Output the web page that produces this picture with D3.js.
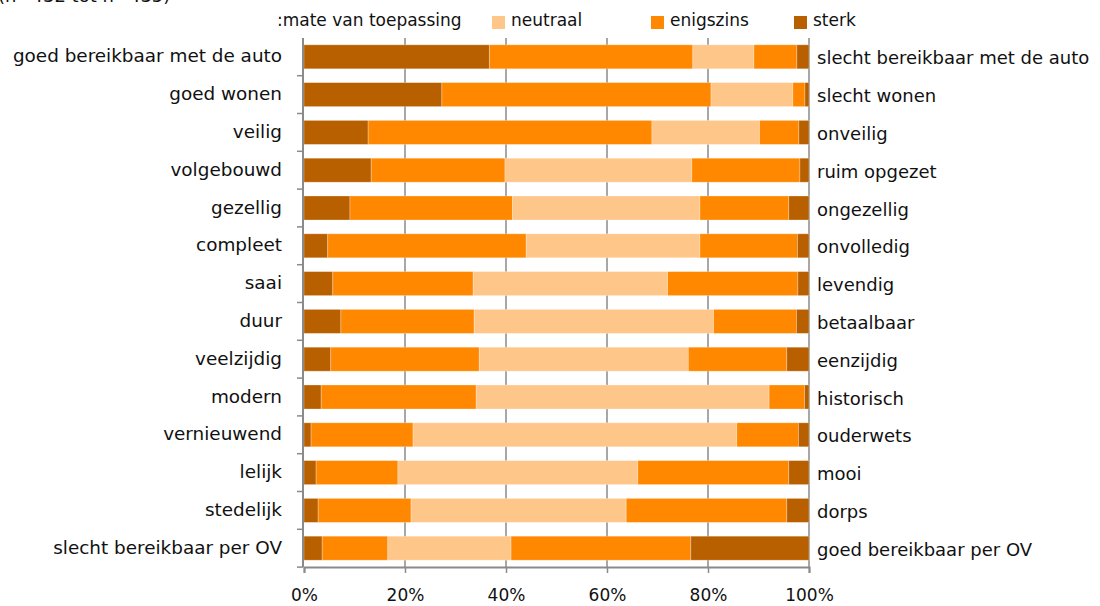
<!DOCTYPE html>
<html>
<head>
<meta charset="utf-8">
<script src="https://cdn.jsdelivr.net/npm/d3@7"></script>
<style>
  body { margin: 0; background: #fff; }
  text { font-family: "DejaVu Sans", Verdana, sans-serif; fill: #111; }
</style>
</head>
<body>
<div id="chart"></div>
<script>
// categories (left / right pole of each statement)
const leftLabels = ['goed bereikbaar met de auto', 'goed wonen', 'veilig', 'volgebouwd', 'gezellig',
    'compleet', 'saai', 'duur', 'veelzijdig', 'modern', 'vernieuwend', 'lelijk', 'stedelijk',
    'slecht bereikbaar per OV'];
const rightLabels = ['slecht bereikbaar met de auto', 'slecht wonen', 'onveilig', 'ruim opgezet', 'ongezellig',
    'onvolledig', 'levendig', 'betaalbaar', 'eenzijdig', 'historisch', 'ouderwets', 'mooi', 'dorps',
    'goed bereikbaar per OV'];

// percentages
const sterkLeft      = [36.7, 27.3, 12.7, 13.3,  9.1,  4.7,  5.7,  7.3,  5.3,  3.4,  1.4,  2.4,  2.8,  3.6];
const enigszinsLeft  = [40.3, 53.3, 56.2, 26.5, 32.2, 39.3, 27.8, 26.4, 29.4, 30.7, 20.2, 16.2, 18.4, 13.0];
const neutraal       = [12.1, 16.2, 21.3, 37.0, 37.1, 34.4, 38.5, 47.4, 41.4, 58.0, 64.1, 47.5, 42.6, 24.4];
const enigszinsRight = [ 8.5,  2.4,  7.8, 21.4, 17.6, 19.3, 25.8, 16.4, 19.5,  7.0, 12.2, 29.9, 31.8, 35.6];
const sterkRight     = [ 2.4,  0.8,  2.0,  1.8,  4.0,  2.3,  2.2,  2.5,  4.4,  0.9,  2.1,  4.0,  4.4, 23.4];

const xTicks = [0, 20, 40, 60, 80, 100];
const legendItems = ['neutraal', 'enigszins', 'sterk'];
const sampleNote = '(n=432 tot n=435)';
const legendTitle = ':mate van toepassing';

const colors = { sterk: '#b85f00', enigszins: '#ff8800', neutraal: '#ffc689' };

class Chart {

    constructor(opts) {
        this.element = opts.element;
        this.draw();
    }

    draw() {
        this.width = 1100;
        this.height = 606;
        this.margin = { top: 38, right: 291, bottom: 39, left: 304 };

        const svg = d3.select(this.element).append('svg')
            .attr('width', this.width)
            .attr('height', this.height);
        this.svg = svg;

        this.plot = svg.append('g')
            .attr('transform', `translate(${this.margin.left},${this.margin.top})`);

        this.innerW = this.width - this.margin.left - this.margin.right;
        this.innerH = this.height - this.margin.top - this.margin.bottom;

        this.createScales();
        this.addGrid();
        this.addBars();
        this.addAxes();
        this.addLabels();
        this.addLegend();
    }

    createScales() {
        this.xScale = d3.scaleLinear()
            .domain([0, 100])
            .range([0, this.innerW]);

        this.yScale = d3.scaleBand()
            .domain(d3.range(leftLabels.length))
            .range([0, this.innerH])
            .paddingInner(0.365)
            .paddingOuter(0.18);
    }

    addGrid() {
        this.plot.append('g')
            .selectAll('line')
            .data(xTicks.filter(t => t > 0))
            .join('line')
            .attr('x1', d => this.xScale(d))
            .attr('x2', d => this.xScale(d))
            .attr('y1', 0)
            .attr('y2', this.innerH)
            .attr('stroke', '#8a8a8a')
            .attr('stroke-width', 1.5);
    }

    addBars() {
        const keys = ['sterkL', 'enigszinsL', 'neutraal', 'enigszinsR', 'sterkR'];
        const fills = [colors.sterk, colors.enigszins, colors.neutraal, colors.enigszins, colors.sterk];
        const rows = leftLabels.map((l, i) => ({
            i: i,
            sterkL: sterkLeft[i],
            enigszinsL: enigszinsLeft[i],
            neutraal: neutraal[i],
            enigszinsR: enigszinsRight[i],
            sterkR: sterkRight[i]
        }));
        const series = d3.stack().keys(keys)(rows);

        this.plot.append('g')
            .selectAll('g')
            .data(series)
            .join('g')
            .attr('fill', (d, k) => fills[k])
            .selectAll('rect')
            .data(d => d)
            .join('rect')
            .attr('x', d => this.xScale(d[0]))
            .attr('width', d => this.xScale(d[1]) - this.xScale(d[0]))
            .attr('y', d => this.yScale(d.data.i))
            .attr('height', this.yScale.bandwidth())
            .attr('stroke', 'rgba(255,255,255,0.35)')
            .attr('stroke-width', 0.8);
    }

    addAxes() {
        const axisColor = '#8a8a8a';

        // bottom axis
        const xAxis = d3.axisBottom(this.xScale)
            .tickValues(xTicks)
            .tickSize(6)
            .tickPadding(16)
            .tickFormat(d => d + '%');
        const gx = this.plot.append('g')
            .attr('transform', `translate(0,${this.innerH})`)
            .call(xAxis);
        gx.select('.domain').attr('stroke', axisColor).attr('stroke-width', 2);
        gx.selectAll('.tick line').attr('stroke', axisColor).attr('stroke-width', 1.5);
        gx.selectAll('.tick text')
            .style('font-family', '"DejaVu Sans", Verdana, sans-serif')
            .style('font-size', '17px')
            .attr('fill', '#111');

        // left axis line with ticks between categories
        const step = this.yScale.step();
        const y0 = this.yScale(0) - this.yScale.paddingInner() * step / 2;
        const bounds = d3.range(leftLabels.length + 1).map(k => y0 + k * step);
        const gy = this.plot.append('g');
        gy.append('line')
            .attr('x1', -1).attr('x2', -1)
            .attr('y1', 0).attr('y2', this.innerH)
            .attr('stroke', axisColor).attr('stroke-width', 2);
        gy.selectAll('.tk')
            .data(bounds.slice(1))
            .join('line')
            .attr('class', 'tk')
            .attr('x1', -7).attr('x2', -1)
            .attr('y1', d => d).attr('y2', d => d)
            .attr('stroke', axisColor).attr('stroke-width', 1.5);
    }

    addLabels() {
        const mid = i => this.yScale(i) + this.yScale.bandwidth() / 2;

        this.plot.append('g')
            .selectAll('text')
            .data(leftLabels)
            .join('text')
            .attr('x', -22)
            .attr('y', (d, i) => mid(i))
            .attr('dy', '0.3em')
            .attr('text-anchor', 'end')
            .style('font-size', '18.4px')
            .text(d => d);

        this.plot.append('g')
            .selectAll('text')
            .data(rightLabels)
            .join('text')
            .attr('x', this.innerW + 8)
            .attr('y', (d, i) => mid(i))
            .attr('dy', '0.42em')
            .attr('text-anchor', 'start')
            .style('font-size', '18px')
            .text(d => d);
    }

    addLegend() {
        // sample size note, partly cut off at the top as in the original
        this.svg.append('text')
            .attr('x', -2)
            .attr('y', 2)
            .style('font-size', '18px')
            .text(sampleNote);

        this.svg.append('text')
            .attr('x', 277)
            .attr('y', 26)
            .style('font-size', '17px')
            .text(legendTitle);

        const xs = [492, 651, 794];
        const g = this.svg.append('g')
            .selectAll('g')
            .data(legendItems)
            .join('g')
            .attr('transform', (d, i) => `translate(${xs[i]},16)`);
        g.append('rect')
            .attr('width', 13)
            .attr('height', 13)
            .attr('fill', d => colors[d]);
        g.append('text')
            .attr('x', 19)
            .attr('y', 10)
            .style('font-size', '17px')
            .text(d => d);
    }
}

const chart = new Chart({ element: document.querySelector('#chart') });
</script>
</body>
</html>
